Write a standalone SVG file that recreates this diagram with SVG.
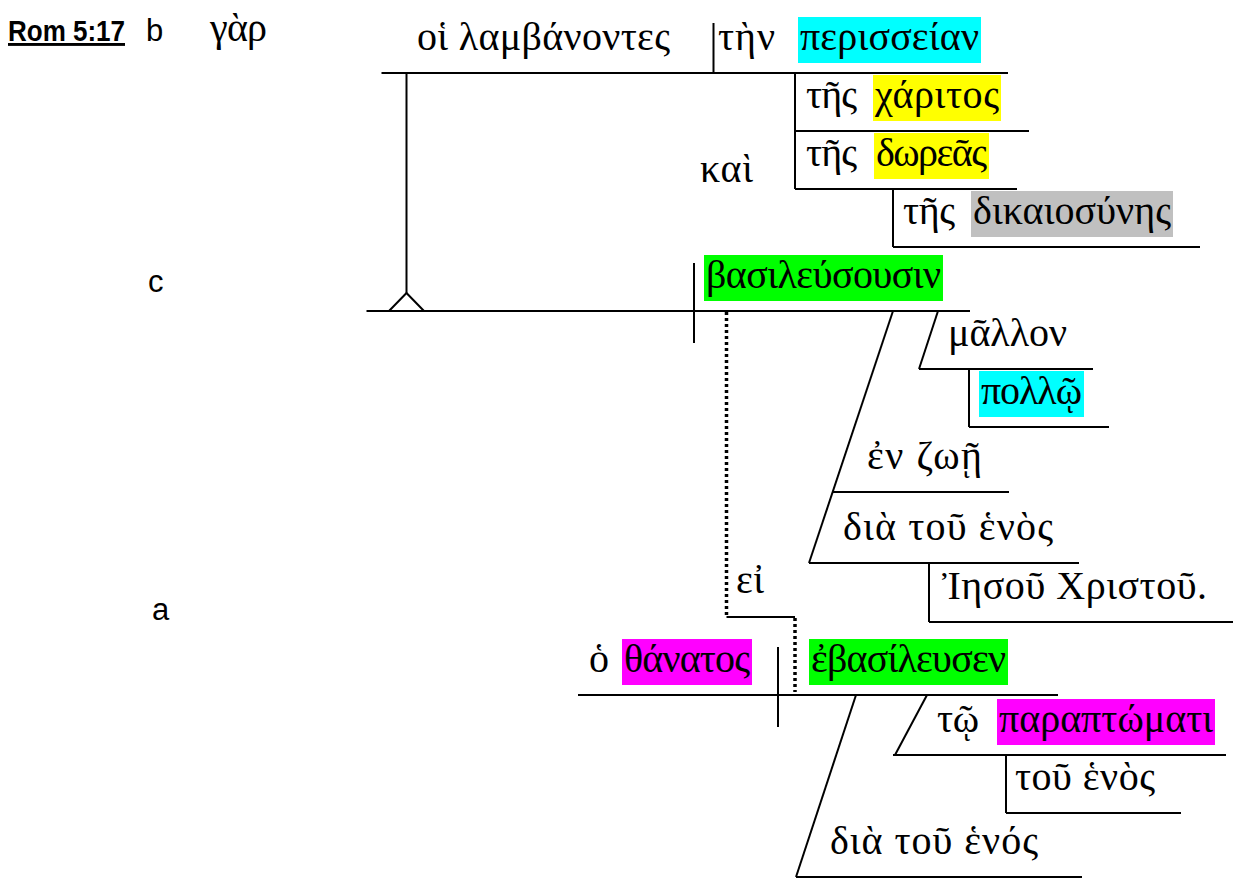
<svg xmlns="http://www.w3.org/2000/svg" width="1240" height="882" viewBox="0 0 1240 882">
<style>
.ln{stroke:#000;stroke-width:2;fill:none}
.dot{stroke:#000;stroke-width:3.5;fill:none;stroke-dasharray:3 3}
.gk{font-family:"Liberation Serif","DejaVu Serif",serif;font-size:40px;fill:#000}
.lb{font-family:"Liberation Sans",Arial,sans-serif;font-size:31px;fill:#000}
.ref{font-family:"Liberation Sans",Arial,sans-serif;font-size:29px;font-weight:bold;fill:#000;text-decoration:underline}
.cy{fill:#00FFFF}.ye{fill:#FFFF00}.gr{fill:#C0C0C0}.gn{fill:#00FF00}.mg{fill:#FF00FF}
</style>
<rect width="1240" height="882" fill="#fff"/>
<g id="labels">
<text class="ref" x="8" y="41" textLength="117" lengthAdjust="spacingAndGlyphs">Rom 5:17</text>
<text class="lb" x="146" y="41">b</text>
<text class="lb" x="148" y="292">c</text>
<text class="lb" x="152" y="620">a</text>
</g>
<g id="connectors">
<line class="ln" x1="381.5" y1="73" x2="1008" y2="73"/>
<line class="ln" x1="713.5" y1="23" x2="713.5" y2="73"/>
<line class="ln" x1="406.5" y1="73" x2="406.5" y2="293"/>
<polyline class="ln" points="389,311 406.5,293 424,311"/>
<line class="ln" x1="795" y1="73" x2="795" y2="189"/>
<line class="ln" x1="795" y1="131" x2="1029" y2="131"/>
<line class="ln" x1="795" y1="189" x2="1017" y2="189"/>
<line class="ln" x1="893" y1="189" x2="893" y2="247"/>
<line class="ln" x1="893" y1="247" x2="1200" y2="247"/>
<line class="ln" x1="366.5" y1="311" x2="970" y2="311"/>
<line class="ln" x1="694" y1="263" x2="694" y2="343"/>
<line class="ln" x1="893" y1="311" x2="809" y2="563"/>
<line class="ln" x1="809" y1="563" x2="1079" y2="563"/>
<line class="ln" x1="938" y1="311" x2="919" y2="369"/>
<line class="ln" x1="919" y1="369" x2="1093" y2="369"/>
<line class="ln" x1="969" y1="369" x2="969" y2="427"/>
<line class="ln" x1="969" y1="427" x2="1109" y2="427"/>
<line class="ln" x1="833" y1="492" x2="1009" y2="492"/>
<line class="ln" x1="929" y1="563" x2="929" y2="622"/>
<line class="ln" x1="929" y1="622" x2="1233" y2="622"/>
<line class="dot" x1="726.5" y1="312" x2="726.5" y2="617"/>
<line class="ln" x1="726.5" y1="617" x2="795" y2="617"/>
<line class="dot" x1="795" y1="618" x2="795" y2="692"/>
<line class="ln" x1="578" y1="695" x2="1058" y2="695"/>
<line class="ln" x1="778" y1="647" x2="778" y2="727"/>
<line class="ln" x1="856" y1="695" x2="796" y2="877"/>
<line class="ln" x1="796" y1="877" x2="1082" y2="877"/>
<line class="ln" x1="927" y1="695" x2="895" y2="755"/>
<line class="ln" x1="893" y1="755" x2="1226" y2="755"/>
<line class="ln" x1="1006" y1="755" x2="1006" y2="813"/>
<line class="ln" x1="1006" y1="813" x2="1181" y2="813"/>
</g>
<g id="gar"><text class="gk" x="210" y="41" textLength="57">γὰρ</text></g>
<g id="subject-b"><text class="gk" x="417" y="50" textLength="253">οἱ λαμβάνοντες</text></g>
<g id="object-b">
<text class="gk" x="718" y="50" textLength="57">τὴν</text>
<rect class="cy" x="798" y="17" width="183" height="46"/>
<text class="gk" x="800" y="50" textLength="179">περισσείαν</text>
</g>
<g id="gen-charitos">
<text class="gk" x="806" y="108" textLength="51">τῆς</text>
<rect class="ye" x="873" y="75" width="128" height="46"/>
<text class="gk" x="875" y="108" textLength="124">χάριτος</text>
</g>
<g id="kai"><text class="gk" x="700" y="182" textLength="53">καὶ</text></g>
<g id="gen-doreas">
<text class="gk" x="806" y="166" textLength="51">τῆς</text>
<rect class="ye" x="874" y="133" width="115" height="46"/>
<text class="gk" x="876" y="166" textLength="111">δωρεᾶς</text>
</g>
<g id="gen-dikaiosynes">
<text class="gk" x="903" y="224" textLength="52">τῆς</text>
<rect class="gr" x="971" y="191" width="202" height="46"/>
<text class="gk" x="973" y="224" textLength="198">δικαιοσύνης</text>
</g>
<g id="verb-c">
<rect class="gn" x="704" y="255" width="239" height="46"/>
<text class="gk" x="706" y="288" textLength="235">βασιλεύσουσιν</text>
</g>
<g id="mallon"><text class="gk" x="948" y="346" textLength="119">μᾶλλον</text></g>
<g id="pollo">
<rect class="cy" x="979" y="371" width="105" height="46"/>
<text class="gk" x="981" y="404" textLength="101">πολλῷ</text>
</g>
<g id="en-zoe"><text class="gk" x="867" y="469" textLength="115">ἐν ζωῇ</text></g>
<g id="dia-c"><text class="gk" x="843" y="540" textLength="210">διὰ τοῦ ἑνὸς</text></g>
<g id="iesou"><text class="gk" x="942" y="599" textLength="265">Ἰησοῦ Χριστοῦ.</text></g>
<g id="ei"><text class="gk" x="736" y="593" textLength="28">εἰ</text></g>
<g id="subject-a">
<text class="gk" x="589" y="672" textLength="16">ὁ</text>
<rect class="mg" x="622" y="639" width="130" height="46"/>
<text class="gk" x="624" y="672" textLength="126">θάνατος</text>
</g>
<g id="verb-a">
<rect class="gn" x="809" y="639" width="199" height="46"/>
<text class="gk" x="811" y="672" textLength="195">ἐβασίλευσεν</text>
</g>
<g id="to-paraptomati">
<text class="gk" x="937" y="732" textLength="42">τῷ</text>
<rect class="mg" x="997" y="699" width="218" height="46"/>
<text class="gk" x="999" y="732" textLength="214">παραπτώματι</text>
</g>
<g id="tou-enos"><text class="gk" x="1015" y="790" textLength="140">τοῦ ἑνὸς</text></g>
<g id="dia-a"><text class="gk" x="830" y="854" textLength="208">διὰ τοῦ ἑνός</text></g>
</svg>
